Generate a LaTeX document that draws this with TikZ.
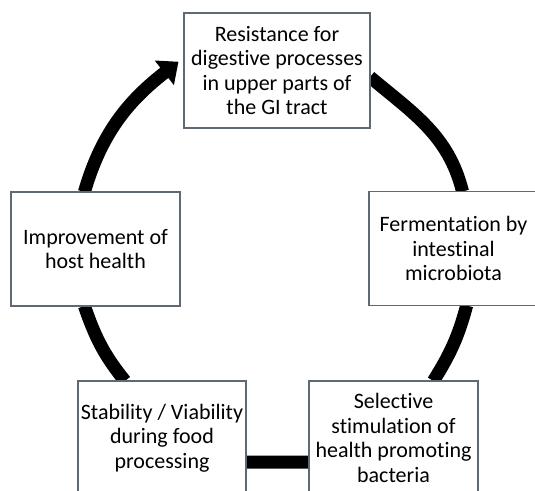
\documentclass[tikz,border=0pt]{standalone}
\usepackage{fontspec}
\setmainfont{Carlito}[Ligatures=CommonOff]
\usetikzlibrary{arrows.meta,backgrounds}
\begin{document}
\begin{tikzpicture}[x=1pt, y=1pt,
    stage/.style={draw={rgb,255:red,95;green,105;blue,118}, line width=1.2pt, fill=white,
        align=center, inner sep=0pt, outer sep=0pt, minimum width=169pt, minimum height=114pt,
        font=\fontsize{22}{24.5}\selectfont},
    ring/.style={line width=13pt}]
\useasboundingbox (0,0) rectangle (535,490);
\node[stage, minimum width=186pt, minimum height=115pt] (resist) at (277,419.5)
    {Resistance for\\digestive processes\\in upper parts of\\the GI tract};
\node[stage] (ferment) at (453.5,241.5) {Fermentation by\\intestinal\\microbiota};
\node[stage] (stimul) at (393.5,52) {Selective\\stimulation of\\health promoting\\bacteria};
\node[stage, minimum width=168pt] (stabil) at (162,52) {Stability / Viability\\during food\\processing};
\node[stage] (health) at (95.5,241) {Improvement of\\host health};
\begin{scope}[on background layer]
\draw[ring, -{Triangle[width=30pt,length=18pt]}, shorten >=7pt] (health.101) to[out=74, in=218] (resist.172);
\draw[ring] (resist.-4) to[out=-40, in=104] (ferment.81);
\draw[ring] (ferment.283) to[out=255, in=58] (stimul.55);
\draw[ring] (stimul.196) -- (stabil.344);
\draw[ring] (stabil.123) to[out=129, in=289] (health.259);
\end{scope}
\end{tikzpicture}
\end{document}
